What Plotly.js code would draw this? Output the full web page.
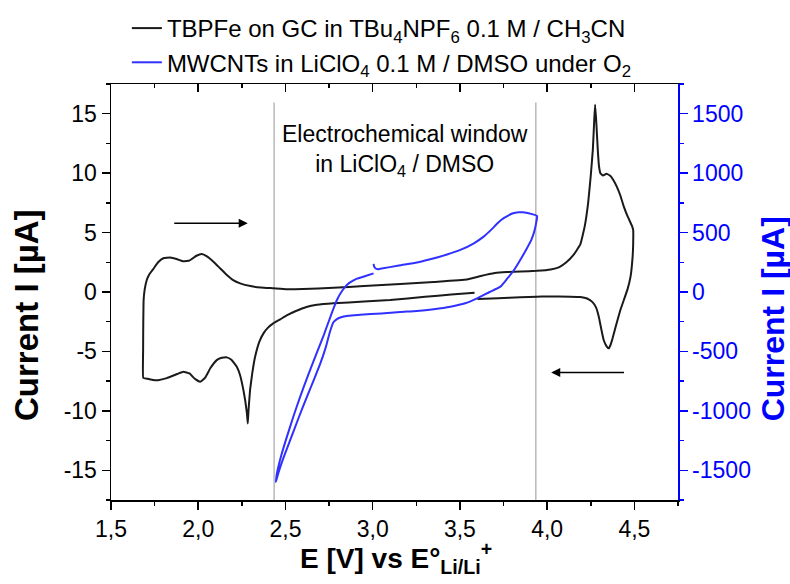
<!DOCTYPE html>
<html>
<head>
<meta charset="utf-8">
<script src="https://cdn.plot.ly/plotly-3.0.1.min.js"></script>
<style>html,body{margin:0;padding:0;background:#fff;}#chart{width:790px;height:584px;}</style>
</head>
<body>
<div id="chart"></div>
<script>
// TBPFe on GC, cyclic voltammogram (E in V vs Li/Li+, I in µA, left axis)
const tbpfeE = [3.584,3.45,3.3,3.1,2.95,2.775,2.68,2.62,2.56,2.51,2.47,2.43,2.40,2.374,2.35,2.326,2.31,2.297,2.288,2.284,2.279,2.27,2.259,2.24,2.221,2.19,2.164,2.13,2.106,2.07,2.04,2.011,1.98,1.95,1.915,1.88,1.82,1.77,1.743,1.71,1.685,1.684,1.685,1.687,1.693,1.705,1.72,1.743,1.77,1.80,1.84,1.88,1.915,1.95,1.99,2.02,2.05,2.087,2.125,2.164,2.2,2.24,2.3,2.36,2.431,2.508,2.6,2.775,2.95,3.158,3.35,3.54,3.62,3.7,3.77,3.85,3.94,4.02,4.07,4.11,4.15,4.19,4.215,4.235,4.25,4.262,4.27,4.275,4.282,4.29,4.297,4.305,4.32,4.34,4.36,4.38,4.401,4.42,4.439,4.46,4.485,4.493,4.493,4.49,4.478,4.46,4.42,4.395,4.375,4.362,4.353,4.34,4.324,4.31,4.296,4.28,4.26,4.229,4.19,4.133,4.0,3.94,3.847,3.72,3.6];
const tbpfeI = [-0.06,-0.22,-0.4,-0.68,-0.8,-0.95,-1.08,-1.26,-1.6,-1.95,-2.3,-2.64,-3.0,-3.48,-4.2,-5.45,-6.8,-8.26,-10.0,-11.06,-10.2,-9.2,-8.26,-7.0,-6.29,-5.7,-5.5,-5.55,-5.73,-6.4,-7.2,-7.56,-7.3,-6.85,-6.71,-6.9,-7.25,-7.42,-7.41,-7.3,-7.22,-5.0,-2.5,-0.67,0.2,1.01,1.5,1.95,2.5,2.84,2.9,2.75,2.58,2.65,3.05,3.2,3.0,2.55,2.0,1.43,1.0,0.73,0.5,0.38,0.31,0.23,0.25,0.35,0.5,0.67,0.85,1.05,1.35,1.6,1.68,1.72,1.78,1.9,2.1,2.5,3.1,4.0,5.5,7.5,9.8,12.0,14.5,15.75,14.2,12.0,10.6,10.0,9.8,9.95,9.8,9.4,8.8,8.1,7.2,6.4,5.6,5.22,4.0,3.0,1.3,0.2,-1.5,-2.8,-3.9,-4.5,-4.74,-4.55,-4.04,-3.1,-2.08,-1.3,-0.85,-0.55,-0.43,-0.39,-0.38,-0.39,-0.45,-0.52,-0.59];

// MWCNTs in LiClO4/DMSO under O2 (E in V, I in µA, right axis)
const mwcntE = [3.005,2.95,2.91,2.875,2.852,2.825,2.795,2.775,2.756,2.72,2.68,2.63,2.584,2.545,2.508,2.475,2.451,2.445,2.46,2.49,2.527,2.575,2.623,2.665,2.70,2.73,2.756,2.775,2.795,2.814,2.86,2.928,3.05,3.158,3.254,3.35,3.445,3.53,3.598,3.67,3.732,3.77,3.81,3.85,3.885,3.91,3.928,3.938,3.942,3.9,3.86,3.837,3.80,3.751,3.72,3.68,3.636,3.58,3.502,3.426,3.33,3.254,3.15,3.043,3.03,3.015,3.008,3.005];
const mwcntI = [157,130,112,85,59,10,-67,-140,-215,-360,-510,-700,-882,-1050,-1219,-1380,-1527,-1598,-1520,-1390,-1247,-1060,-882,-730,-601,-470,-330,-255,-228,-215,-200,-192,-180,-168,-160,-145,-124,-95,-53,0,45,110,185,280,370,440,520,590,640,660,670,671,660,621,585,525,466,410,354,315,275,248,223,195,192,200,215,236];

const seriesNames = [
  'TBPFe on GC in TBu<sub>4</sub>NPF<sub>6</sub> 0.1 M / CH<sub>3</sub>CN',
  'MWCNTs in LiClO<sub>4</sub> 0.1 M / DMSO under O<sub>2</sub>'
];
const windowBounds = [2.435, 3.935];
const windowTop = 15.95;
const xTickVals = [1.5, 2.0, 2.5, 3.0, 3.5, 4.0, 4.5];
const yLeftTicks = [-15, -10, -5, 0, 5, 10, 15];
const yLeftLabels = ['-15', '-10', '-5', '0', '5', '10', '15'];
const yRightTicks = [-1500, -1000, -500, 0, 500, 1000, 1500];
const yRightLabels = ['-1500', '-1000', '-500', '0', '500', '1000', '1500'];
// arrows: [tailE, headE, I]
const arrowRight = [1.854, 2.284, 5.79];
const arrowLeft = [4.449, 4.023, -6.77];

const FONT = 'Liberation Sans, Arial, sans-serif';
const BLUE = '#0000ff';

const traces = [
  {x: tbpfeE, y: tbpfeI, name: seriesNames[0], type: 'scatter', mode: 'lines',
   line: {color: '#1a1a1a', width: 2, shape: 'spline', smoothing: 0.3}, xaxis: 'x', yaxis: 'y'},
  {x: mwcntE, y: mwcntI, name: seriesNames[1], type: 'scatter', mode: 'lines',
   line: {color: '#3030ff', width: 2, shape: 'spline', smoothing: 0.5}, xaxis: 'x2', yaxis: 'y2'}
];

const layout = {
  width: 790, height: 584,
  margin: {l: 111, r: 112, t: 84, b: 84, autoexpand: false},
  paper_bgcolor: '#fff', plot_bgcolor: '#fff',
  separators: ',.',
  font: {family: FONT, color: '#000', size: 23},
  showlegend: true,
  legend: {x: 0.028, y: 1.1875, xanchor: 'left', yanchor: 'top', font: {size: 24, family: FONT, color: '#000'},
           bgcolor: 'rgba(0,0,0,0)', tracegroupgap: 0},
  xaxis: {range: [1.5, 4.75], tickvals: xTickVals, tickformat: '.1f', ticks: 'outside', ticklen: 8, tickwidth: 1.5,
          tickcolor: '#000', showline: true, linecolor: '#000', linewidth: 1.5, showgrid: false, zeroline: false,
          tickfont: {size: 23, family: FONT, color: '#000'},
          minor: {ticks: 'outside', dtick: 0.25, tick0: 1.5, ticklen: 4, tickwidth: 1.5, tickcolor: '#000', showgrid: false}},
  xaxis2: {matches: 'x', overlaying: 'x', side: 'top', anchor: 'y2', tickvals: xTickVals, ticks: 'inside', ticklen: 8, tickwidth: 1.5,
           tickcolor: '#000', showline: true, linecolor: '#000', linewidth: 1.5, showgrid: false, zeroline: false,
           showticklabels: false,
           minor: {ticks: 'inside', dtick: 0.25, tick0: 1.5, ticklen: 4, tickwidth: 1.5, tickcolor: '#000', showgrid: false}},
  yaxis: {range: [-17.5, 17.5], tickvals: yLeftTicks, ticktext: yLeftLabels, ticks: 'outside', ticklen: 8, tickwidth: 1.5, tickcolor: '#000',
          showline: true, linecolor: '#000', linewidth: 1.5, showgrid: false, zeroline: false,
          tickfont: {size: 23, family: FONT, color: '#000'},
          minor: {ticks: 'outside', dtick: 2.5, ticklen: 4, tickwidth: 1.5, tickcolor: '#000', showgrid: false}},
  yaxis2: {range: [-1750, 1750], overlaying: 'y', side: 'right', anchor: 'x2', tickvals: yRightTicks, ticktext: yRightLabels, ticks: 'outside',
           ticklen: 8, tickwidth: 1.5, tickcolor: BLUE, showline: true, linecolor: BLUE, linewidth: 1.5,
           showgrid: false, zeroline: false, tickfont: {size: 23, family: FONT, color: BLUE},
           minor: {ticks: 'outside', dtick: 250, ticklen: 4, tickwidth: 1.5, tickcolor: BLUE, showgrid: false}},
  shapes: windowBounds.map(b => ({type: 'line', xref: 'x', yref: 'y', x0: b, x1: b, y0: -17.5, y1: windowTop,
                                   line: {color: '#b8b8b8', width: 1.5}, layer: 'below'})),
  annotations: [
    {xref: 'x', yref: 'y', x: (windowBounds[0] + windowBounds[1]) / 2, y: 11.9,
     text: 'Electrochemical window<br>in LiClO<sub>4</sub> / DMSO', showarrow: false,
     font: {size: 23, family: FONT, color: '#000'}, xanchor: 'center', yanchor: 'middle', align: 'center'},
    {xref: 'x', yref: 'y', axref: 'x', ayref: 'y', x: arrowRight[1], y: arrowRight[2], ax: arrowRight[0], ay: arrowRight[2],
     text: '', showarrow: true, arrowhead: 2, arrowsize: 1.3, arrowwidth: 1.4, arrowcolor: '#000', standoff: 0},
    {xref: 'x', yref: 'y', axref: 'x', ayref: 'y', x: arrowLeft[1], y: arrowLeft[2], ax: arrowLeft[0], ay: arrowLeft[2],
     text: '', showarrow: true, arrowhead: 2, arrowsize: 1.3, arrowwidth: 1.4, arrowcolor: '#000', standoff: 0},
    {xref: 'paper', yref: 'paper', x: 0.503, y: -0.0865, xanchor: 'center', yanchor: 'top', showarrow: false,
     text: '<b>E [V] vs E°<sub>Li/Li</sub><sup>+</sup></b>', font: {size: 28, family: FONT, color: '#000'}},
    {xref: 'paper', yref: 'paper', x: -0.148, y: 0.445, xanchor: 'center', yanchor: 'middle', showarrow: false,
     textangle: -90, text: '<b>Current I [µA]</b>', font: {size: 33, family: FONT, color: '#000'}},
    {xref: 'paper', yref: 'paper', x: 1.168, y: 0.435, xanchor: 'center', yanchor: 'middle', showarrow: false,
     textangle: -90, text: '<b>Current I [µA]</b>', font: {size: 32, family: FONT, color: BLUE}}
  ]
};

Plotly.newPlot('chart', traces, layout, {staticPlot: true, displayModeBar: false});
</script>
</body>
</html>
